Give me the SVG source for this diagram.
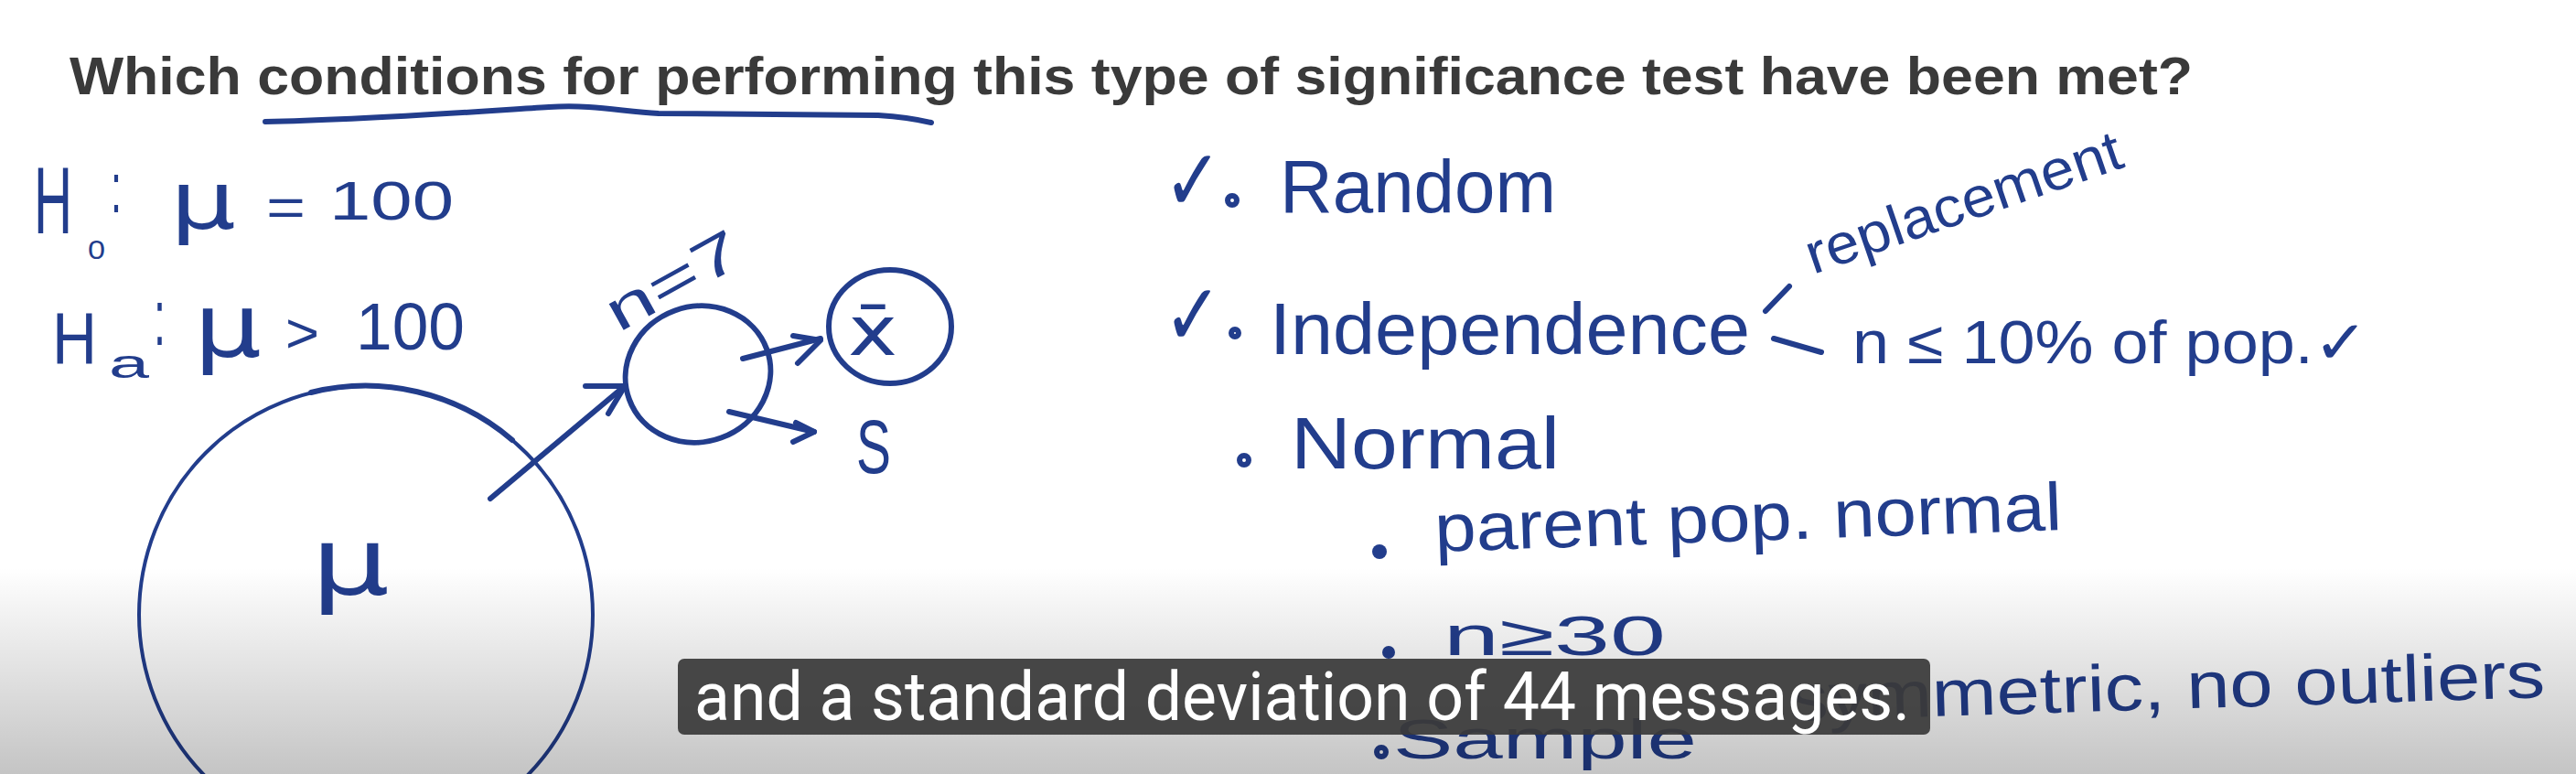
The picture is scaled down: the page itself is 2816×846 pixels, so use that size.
<svg xmlns="http://www.w3.org/2000/svg" width="2816" height="846" viewBox="0 0 2816 846">
  <defs>
    <linearGradient id="shade" x1="0" y1="0" x2="0" y2="1">
      <stop offset="0" stop-color="#000" stop-opacity="0"/>
      <stop offset="1" stop-color="#000" stop-opacity="0.23"/>
    </linearGradient>
    <style>
      .ink { fill: #223d8c; font-family: "Liberation Sans", "DejaVu Sans", sans-serif; }
      .sym { fill: #223d8c; font-family: "DejaVu Sans", sans-serif; }
      .stroke { fill: none; stroke: #223d8c; stroke-width: 6; stroke-linecap: round; stroke-linejoin: round; }
      .thin { fill: none; stroke: #223d8c; stroke-width: 4; stroke-linecap: round; }
      .title { fill: #3a3a3a; font-family: "Liberation Sans", Arial, sans-serif; font-weight: bold; font-size: 58px; }
      .cap { fill: #ffffff; font-family: Roboto, "Liberation Sans", sans-serif; font-size: 74px; }
    </style>
  </defs>
  <rect x="0" y="0" width="2816" height="846" fill="#ffffff"/>

  <g id="title">
    <text class="title" x="76" y="103" textLength="2321" lengthAdjust="spacingAndGlyphs">Which conditions for performing this type of significance test have been met?</text>
    <path class="stroke" d="M290 133 C 400 131, 520 122, 600 117 C 650 114, 680 122, 720 124 L 960 126 C 990 128, 1005 131, 1018 134"/>
  </g>

  <g id="h0">
    <text class="ink" x="37" y="255" font-size="104" textLength="42" lengthAdjust="spacingAndGlyphs">H</text>
    <text class="ink" x="96" y="283" font-size="30" textLength="19" lengthAdjust="spacingAndGlyphs">0</text>
    <text class="ink" x="121" y="232" font-size="78" textLength="12" lengthAdjust="spacingAndGlyphs">:</text>
    <text class="sym" x="186" y="250" font-size="88" textLength="72" lengthAdjust="spacingAndGlyphs">μ</text>
    <text class="ink" x="291" y="247" font-size="60" textLength="43" lengthAdjust="spacingAndGlyphs">=</text>
    <text class="ink" x="360" y="240" font-size="60" textLength="136" lengthAdjust="spacingAndGlyphs">100</text>
  </g>

  <g id="ha">
    <text class="ink" x="57" y="397" font-size="80" textLength="49" lengthAdjust="spacingAndGlyphs">H</text>
    <text class="ink" x="119" y="413" font-size="45" textLength="44" lengthAdjust="spacingAndGlyphs">a</text>
    <text class="ink" x="168" y="377" font-size="88" textLength="13" lengthAdjust="spacingAndGlyphs">:</text>
    <text class="sym" x="212" y="390" font-size="96" textLength="74" lengthAdjust="spacingAndGlyphs">μ</text>
    <text class="ink" x="312" y="385" font-size="62" textLength="37" lengthAdjust="spacingAndGlyphs">&gt;</text>
    <text class="ink" x="389" y="382" font-size="72" textLength="119" lengthAdjust="spacingAndGlyphs">100</text>
  </g>

  <g id="population">
    <ellipse class="thin" cx="400" cy="672" rx="248" ry="250"/>
    <path class="stroke" d="M340 429 A 248 250 0 0 1 560 481"/>
    <text class="sym" x="340" y="650" font-size="104" textLength="86" lengthAdjust="spacingAndGlyphs">μ</text>
  </g>

  <g id="sample">
    <ellipse class="stroke" cx="763" cy="409" rx="80" ry="74" transform="rotate(-20 763 409)"/>
    <text class="ink" transform="translate(676,364) rotate(-29)" font-size="62" textLength="160" lengthAdjust="spacingAndGlyphs">n=7</text>
  </g>

  <g id="xbar">
    <ellipse class="stroke" cx="973" cy="357" rx="67" ry="62"/>
    <text class="sym" x="927" y="388" font-size="74" textLength="54" lengthAdjust="spacingAndGlyphs">x̄</text>
  </g>

  <g id="s">
    <text class="ink" x="936" y="517" font-size="84" textLength="38" lengthAdjust="spacingAndGlyphs">S</text>
  </g>

  <g id="connectors">
    <path class="stroke" d="M536 545 L 678 426"/>
    <path class="stroke" d="M640 422 L 683 422 L 665 452"/>
    <path class="stroke" d="M812 392 L 897 370"/>
    <path class="stroke" d="M867 367 L 897 372 L 872 397"/>
    <path class="stroke" d="M797 450 L 890 472"/>
    <path class="stroke" d="M870 462 L 890 472 L 867 483"/>
    <path class="stroke" d="M1930 340 L 1956 313"/>
    <path class="stroke" d="M1939 370 L 1991 385"/>
  </g>

  <g id="random">
    <text class="sym" x="1272" y="230" font-size="95" textLength="64" lengthAdjust="spacingAndGlyphs">✓</text>
    <circle class="stroke" cx="1347" cy="219" r="5"/>
    <text class="ink" x="1399" y="232" font-size="82" textLength="302" lengthAdjust="spacingAndGlyphs">Random</text>
  </g>

  <g id="independence">
    <text class="sym" x="1272" y="377" font-size="95" textLength="64" lengthAdjust="spacingAndGlyphs">✓</text>
    <circle class="stroke" cx="1350" cy="364" r="4"/>
    <text class="ink" x="1388" y="387" font-size="80" textLength="525" lengthAdjust="spacingAndGlyphs">Independence</text>
    <text class="ink" transform="translate(1982,300) rotate(-19)" font-size="62" textLength="362" lengthAdjust="spacingAndGlyphs">replacement</text>
    <text class="ink" x="2025" y="397" font-size="66" textLength="564" lengthAdjust="spacingAndGlyphs">n ≤ 10% of pop.✓</text>
  </g>

  <g id="normal">
    <circle class="stroke" cx="1360" cy="503" r="5"/>
    <text class="ink" x="1411" y="512" font-size="80" textLength="294" lengthAdjust="spacingAndGlyphs">Normal</text>
  </g>

  <g id="parent">
    <circle cx="1508" cy="603" r="8" fill="#223d8c"/>
    <text class="ink" transform="translate(1569,603) rotate(-2)" font-size="74" textLength="686" lengthAdjust="spacingAndGlyphs">parent pop. normal</text>
  </g>

  <g id="n30">
    <circle cx="1518" cy="713" r="7" fill="#223d8c"/>
    <text class="ink" x="1578" y="716" font-size="62" textLength="243" lengthAdjust="spacingAndGlyphs">n≥30</text>
  </g>

  <g id="symmetric">
    <circle class="stroke" cx="1510" cy="822" r="5"/>
    <text class="ink" x="1523" y="829" font-size="62" textLength="332" lengthAdjust="spacingAndGlyphs">Sample</text>
    <text class="ink" transform="translate(1957,788) rotate(-1.8)" font-size="72" textLength="826" lengthAdjust="spacingAndGlyphs">symmetric, no outliers</text>
  </g>

  <rect x="0" y="620" width="2816" height="226" fill="url(#shade)"/>

  <g id="caption">
    <rect x="741" y="720" width="1369" height="83" rx="7" fill="#3a3a3a" fill-opacity="0.93"/>
    <text class="cap" x="759" y="787" textLength="1329" lengthAdjust="spacingAndGlyphs">and a standard deviation of 44 messages.</text>
  </g>
</svg>
